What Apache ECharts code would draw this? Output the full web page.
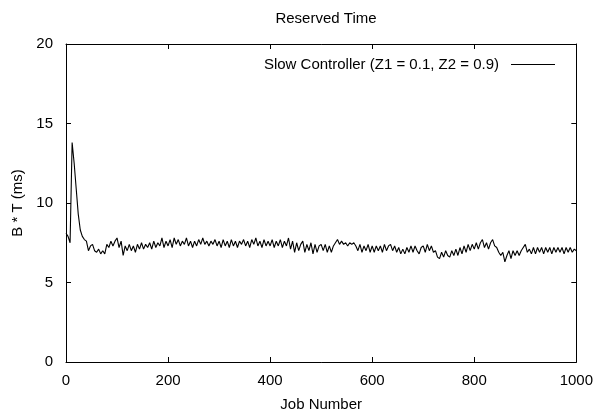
<!DOCTYPE html>
<html>
<head>
<meta charset="utf-8">
<script src="https://cdn.jsdelivr.net/npm/echarts@6/dist/echarts.min.js"></script>
<style>html,body{margin:0;padding:0;background:#fff;}#c{width:596px;height:417px;}</style>
</head>
<body>
<div id="c"></div>
<script>
const title = 'Reserved Time';
const seriesName = 'Slow Controller (Z1 = 0.1, Z2 = 0.9)';
const xTicks = [0, 200, 400, 600, 800, 1000];
const yTicks = [0, 5, 10, 15, 20];
const jobStep = 4;
// B*T values read every 4 jobs, job 0 .. 1000
const values = [
  8.1, 7.9, 7.5, 13.8, 12.5, 10.9, 9.3, 8.3, 7.9, 7.7, 7.6, 7.0, 7.3, 7.4, 7.0, 6.9, 7.1, 6.8, 7.0, 6.8, 7.4, 7.2, 7.6, 7.3, 7.6,
  7.8, 7.2, 7.6, 6.7, 7.3, 7.0, 7.4, 7.0, 7.3, 6.9, 7.4, 7.1, 7.5, 7.1, 7.4, 7.2, 7.5, 7.1, 7.6, 7.2, 7.5, 7.3, 7.8, 7.2, 7.6,
  7.3, 7.7, 7.2, 7.8, 7.4, 7.7, 7.3, 7.6, 7.4, 7.8, 7.3, 7.6, 7.2, 7.6, 7.3, 7.7, 7.4, 7.8, 7.4, 7.6, 7.3, 7.6, 7.4, 7.7, 7.3,
  7.6, 7.2, 7.7, 7.3, 7.6, 7.2, 7.7, 7.3, 7.6, 7.2, 7.6, 7.4, 7.7, 7.3, 7.6, 7.2, 7.7, 7.4, 7.8, 7.3, 7.6, 7.2, 7.7, 7.3, 7.6,
  7.3, 7.7, 7.2, 7.6, 7.3, 7.7, 7.2, 7.6, 7.3, 7.8, 7.1, 7.6, 6.9, 7.5, 7.0, 7.4, 7.6, 6.9, 7.4, 7.0, 7.5, 6.8, 7.4, 6.9, 7.3,
  7.4, 7.0, 7.4, 6.9, 7.3, 6.9, 7.3, 7.5, 7.7, 7.4, 7.6, 7.4, 7.5, 7.3, 7.5, 7.4, 7.5, 7.3, 7.0, 7.4, 6.9, 7.3, 7.0, 7.4, 6.9,
  7.3, 6.9, 7.3, 7.0, 7.3, 6.9, 7.4, 7.0, 7.3, 7.4, 7.0, 7.3, 6.9, 7.2, 6.8, 7.1, 6.8, 7.2, 6.9, 7.3, 6.9, 7.3, 7.0, 6.8, 7.2,
  7.3, 6.9, 7.4, 7.0, 7.3, 6.9, 7.0, 6.6, 6.5, 6.9, 6.6, 7.0, 6.7, 6.6, 7.0, 6.7, 7.1, 6.7, 7.2, 6.8, 7.3, 6.9, 7.4, 7.0, 7.4,
  7.1, 7.5, 7.1, 7.5, 7.7, 7.2, 7.5, 7.1, 7.5, 7.7, 7.3, 7.2, 6.9, 6.7, 6.9, 6.3, 6.7, 7.0, 6.5, 7.0, 6.7, 7.0, 6.7, 7.0, 7.2,
  7.4, 6.9, 7.1, 6.8, 7.2, 6.8, 7.2, 6.9, 7.2, 6.8, 7.2, 6.9, 7.2, 6.8, 7.2, 6.9, 7.2, 6.9, 7.2, 6.8, 7.2, 6.9, 7.2, 6.9, 7.1, 7.0
];
const points = values.map((v, i) => [i * jobStep, v]);

const font = 'Liberation Sans, Arial, Helvetica, sans-serif';
const fs = 15;
const chart = echarts.init(document.getElementById('c'), null, {renderer: 'canvas'});
const baseAxis = {
  axisLine: {show: true, onZero: false, lineStyle: {color: '#000', width: 1}},
  axisTick: {show: true, inside: true, length: 5, lineStyle: {color: '#000'}},
  splitLine: {show: false},
  axisLabel: {color: '#000', fontFamily: font, fontSize: fs, formatter: v => String(v)}
};
chart.setOption({
  animation: false,
  backgroundColor: '#fff',
  title: {
    text: title, left: 321, top: 6, textAlign: 'center',
    textStyle: {color: '#000', fontFamily: font, fontSize: fs, fontWeight: 'normal'}
  },
  legend: {
    right: 36, top: 52, align: 'right', itemWidth: 44, itemHeight: 10, itemGap: 8,
    textStyle: {color: '#000', fontFamily: font, fontSize: fs, padding: [0, 7, 0, 0]},
    data: [{name: seriesName, icon: 'path://M0,5L44,5L44,6L0,6Z'}]
  },
  grid: {left: 66, right: 19, top: 44, bottom: 51},
  xAxis: [
    Object.assign({}, baseAxis, {
      type: 'value', min: 0, max: 1000, interval: 200, position: 'bottom',
      name: 'Job Number', nameLocation: 'middle', nameGap: 35,
      nameTextStyle: {color: '#000', fontFamily: font, fontSize: fs},
      axisLabel: Object.assign({}, baseAxis.axisLabel, {margin: 11})
    }),
    Object.assign({}, baseAxis, {
      type: 'value', min: 0, max: 1000, interval: 200, position: 'top',
      axisLabel: {show: false}
    })
  ],
  yAxis: [
    Object.assign({}, baseAxis, {
      type: 'value', min: 0, max: 20, interval: 5, position: 'left',
      name: 'B * T (ms)', nameLocation: 'middle', nameGap: 40,
      nameTextStyle: {color: '#000', fontFamily: font, fontSize: fs},
      axisLabel: Object.assign({}, baseAxis.axisLabel, {margin: 13})
    }),
    Object.assign({}, baseAxis, {
      type: 'value', min: 0, max: 20, interval: 5, position: 'right',
      axisLabel: {show: false}
    })
  ],
  series: [{
    name: seriesName,
    type: 'line',
    data: points,
    symbol: 'none',
    showSymbol: false,
    lineStyle: {color: '#000', width: 1.1},
    itemStyle: {color: '#000'}
  }]
});
</script>
</body>
</html>
